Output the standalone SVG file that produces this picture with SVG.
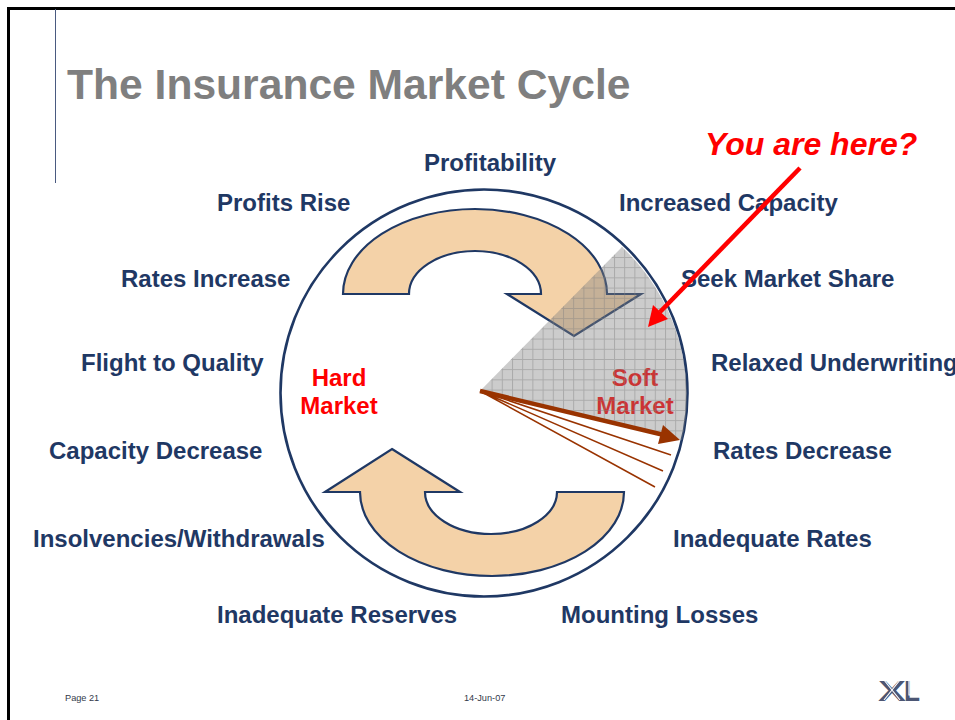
<svg xmlns="http://www.w3.org/2000/svg" width="955" height="720" viewBox="0 0 955 720">
<style>
text{font-family:"Liberation Sans",Arial,sans-serif;font-weight:700}
.l{font-size:24px;fill:#1f3864}
.r{font-size:24px;fill:#f00;text-anchor:middle}
.f{font-size:9.2px;font-weight:400;fill:#333a4a}
.a{fill:#f4d2a8;stroke:#1f3864;stroke-width:2.2;stroke-linejoin:miter}
.b{stroke:#993300;fill:none;stroke-width:1.5}
</style>
<defs>
<pattern id="g" width="10.2" height="10.2" patternUnits="userSpaceOnUse" x="2" y="2">
<rect width="10.2" height="10.2" fill="#808080" fill-opacity=".4"/>
<path d="M0 .5H10.2M.5 0V10.2" stroke="#808080" stroke-width="1" stroke-opacity=".45" fill="none"/>
</pattern>
</defs>
<rect width="955" height="720" fill="#fff"/>
<g id="frame">
<path d="M8.5 720V8.5H955" fill="none" stroke="#000" stroke-width="3"/>
<path d="M55.5 9V183" stroke="#4a5a80" stroke-width="1" fill="none"/>
</g>
<text id="title" x="67" y="98.5" font-size="42.6" fill="#7f7f7f">The Insurance Market Cycle</text>
<g id="ring"><circle cx="484" cy="393" r="203.5" fill="none" stroke="#1f3864" stroke-width="2.6"/></g>
<g id="arrow-top"><path class="a" d="M343 294A132 85 0 0 1 607 294H641L574 336L507 294H541A66 43 0 0 0 409 294Z"/></g>
<g id="arrow-bottom"><path class="a" d="M392 449L460 492H425A66 42 0 0 0 557 492H624A132 84 0 0 1 360 492H325Z"/></g>
<g id="hard-market"><text class="r" x="339" y="386">Hard</text><text class="r" x="339" y="414">Market</text></g>
<g id="soft-market"><text class="r" x="635" y="386">Soft</text><text class="r" x="635" y="414">Market</text></g>
<g id="sector"><path d="M480 391L622 247A204 204 0 0 1 682 440Z" fill="url(#g)"/></g>
<text id="here" x="705" y="155" font-size="32" font-style="italic" fill="#f00">You are here?</text>
<g id="labels">
<text class="l" x="424" y="171">Profitability</text>
<text class="l" x="217" y="211">Profits Rise</text>
<text class="l" x="619" y="211">Increased Capacity</text>
<text class="l" x="121" y="287">Rates Increase</text>
<text class="l" x="681" y="287">Seek Market Share</text>
<text class="l" x="81" y="371">Flight to Quality</text>
<text class="l" x="711" y="371">Relaxed Underwriting</text>
<text class="l" x="49" y="459">Capacity Decrease</text>
<text class="l" x="713" y="459">Rates Decrease</text>
<text class="l" x="33" y="547">Insolvencies/Withdrawals</text>
<text class="l" x="673" y="547">Inadequate Rates</text>
<text class="l" x="217" y="623">Inadequate Reserves</text>
<text class="l" x="561" y="623">Mounting Losses</text>
</g>
<g id="connectors">
<path class="b" d="M480 391L671 455M480 391L663 471M480 391L655 487"/>
<path d="M480 391L664 435" stroke="#993300" stroke-width="4.5" fill="none"/>
<path d="M680 440L658 444L663 425Z" fill="#993300"/>
<path d="M800 168L660 312" stroke="#f00" stroke-width="4.5" fill="none"/>
<path d="M648 327L653 305L668 319Z" fill="#f00"/>
</g>
<g id="footer">
<text class="f" x="65" y="701">Page 21</text>
<text class="f" x="464" y="701">14-Jun-07</text>
<g id="logo" fill="#4c5674">
<text x="878" y="701" font-size="30" fill="#4c5674" textLength="28" lengthAdjust="spacingAndGlyphs">X</text>
<text x="904" y="701" font-size="30" fill="#4c5674" textLength="16" lengthAdjust="spacingAndGlyphs">L</text>
<path d="M884 680L900 700M900 680L884 700M909 680V695H920" fill="none" stroke="#fff" stroke-width="1.2"/>
</g>
</g>
</svg>
